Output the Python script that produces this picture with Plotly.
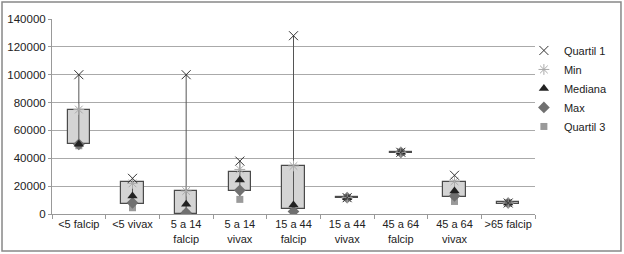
import plotly.graph_objects as go

categories = ["<5 falcip", "<5 vivax", "5 a 14<br>falcip", "5 a 14<br>vivax", "15 a 44<br>falcip",
              "15 a 44<br>vivax", "45 a 64<br>falcip", "45 a 64<br>vivax", ">65 falcip"]
quartil1 = [100000, 25600, 100000, 38000, 128000, 11700, 44300, 27800, 7900]
minimo   = [75000, 22000, 16500, 32000, 34500, 11700, 44300, 23500, 7900]
mediana  = [50000, 13000, 7000, 24500, 6500, 11700, 44300, 16500, 7900]
maximo   = [50000, 8000, 800, 17000, 1800, 11700, 44300, 13000, 7900]
quartil3 = [49000, 4500, 300, 10500, 1200, 11700, 44300, 9000, 7900]
box_low  = [50000, 7000, 300, 16300, 3300, 11200, 43800, 12000, 7400]
box_high = [74800, 23200, 16700, 30500, 34500, 12200, 44800, 22700, 8400]
y_ticks  = [0, 20000, 40000, 60000, 80000, 100000, 120000, 140000]

FONT = "Liberation Sans, Arial, sans-serif"
fig = go.Figure()

# hi-lo lines
wx, wy = [], []
for i, c in enumerate(categories):
    vals = [quartil1[i], minimo[i], mediana[i], maximo[i], quartil3[i], box_low[i], box_high[i]]
    wx += [c, c, None]
    wy += [max(vals), min(vals), None]
fig.add_trace(go.Scatter(x=wx, y=wy, mode="lines", line=dict(color="#555", width=1),
                         showlegend=False, hoverinfo="skip"))

# boxes
fig.add_trace(go.Bar(x=categories, y=[h - l for h, l in zip(box_high, box_low)], base=box_low,
                     width=0.42, marker=dict(color="#d4d4d4", line=dict(color="#4a4a4a", width=1.2)),
                     showlegend=False))

fig.add_trace(go.Scatter(x=categories, y=quartil3, mode="markers", name="Quartil 3",
                         marker=dict(symbol="square", size=7, color="#9a9a9a")))
fig.add_trace(go.Scatter(x=categories, y=maximo, mode="markers", name="Max",
                         marker=dict(symbol="diamond", size=9, color="#707070")))
fig.add_trace(go.Scatter(x=categories, y=mediana, mode="markers", name="Mediana",
                         marker=dict(symbol="triangle-up", size=9, color="#222")))
fig.add_trace(go.Scatter(x=categories, y=minimo, mode="markers", name="Min",
                         marker=dict(symbol="asterisk-open", size=9, color="#aaa",
                                     line=dict(color="#aaa", width=1))))
fig.add_trace(go.Scatter(x=categories, y=quartil1, mode="markers", name="Quartil 1",
                         marker=dict(symbol="x-thin-open", size=9, color="#333",
                                     line=dict(color="#333", width=1))))

fig.update_layout(
    width=624, height=254,
    margin=dict(l=52, r=89, t=19, b=40, autoexpand=False),
    paper_bgcolor="white", plot_bgcolor="white",
    font=dict(family=FONT, size=11, color="#222"),
    bargap=0,
    legend=dict(x=0.977, y=0.913, xanchor="left", yanchor="top", traceorder="reversed",
                font=dict(size=11, color="#222"), itemwidth=30, bgcolor="rgba(0,0,0,0)"),
    xaxis=dict(type="category", tickson="boundaries", ticks="outside", ticklen=4,
               tickcolor="#999", showline=True, linecolor="#999", showgrid=False, automargin=False,
               range=[-0.5, 8.5], tickangle=0, tickfont=dict(size=11)),
    yaxis=dict(range=[0, 140000], tickvals=y_ticks, tickformat="d", ticks="outside", ticklen=3,
               tickcolor="#999", showline=True, linecolor="#999", showgrid=True, automargin=False,
               gridcolor="#aaa", gridwidth=1, zeroline=False, tickfont=dict(size=11.5)),
    shapes=[dict(type="rect", xref="paper", yref="paper", x0=-0.1035, x1=1.178, y0=-0.19, y1=1.087,
                 line=dict(color="#888", width=1.5), fillcolor="rgba(0,0,0,0)")],
)

fig.write_html("out.html", config={"displayModeBar": False},
               post_script="document.body.style.margin='0';")
